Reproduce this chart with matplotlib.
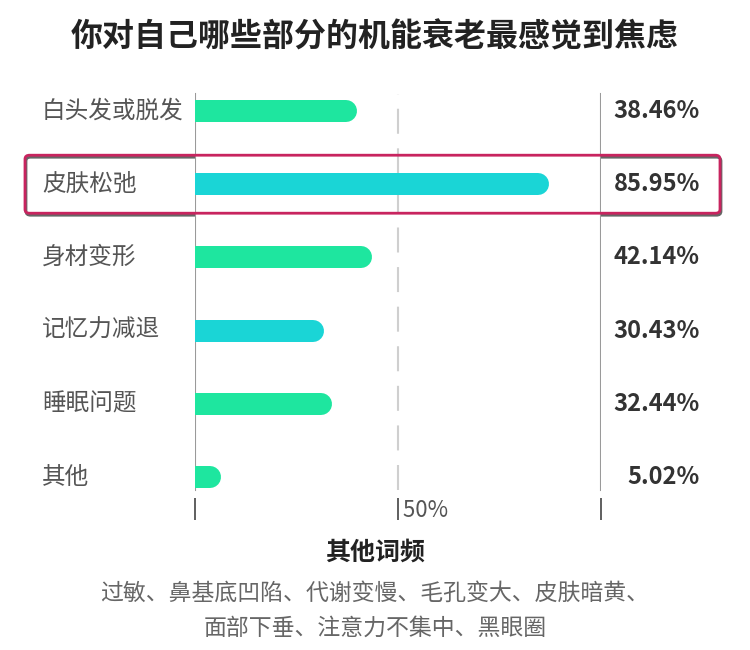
import matplotlib
matplotlib.use("Agg")
import matplotlib.pyplot as plt
from matplotlib.patches import FancyBboxPatch
from matplotlib.transforms import blended_transform_factory

plt.rcParams['font.family'] = ['Noto Sans CJK SC', 'DejaVu Sans']

title = "你对自己哪些部分的机能衰老最感觉到焦虑"
categories = ["白头发或脱发", "皮肤松弛", "身材变形", "记忆力减退", "睡眠问题", "其他"]
values = [38.46, 85.95, 42.14, 30.43, 32.44, 5.02]
value_labels = ["38.46%", "85.95%", "42.14%", "30.43%", "32.44%", "5.02%"]
bar_colors = ["#1ee69f", "#1ad5d6", "#1ee69f", "#1ad5d6", "#1ee69f", "#1ee69f"]
highlight_index = 1
tick_values = [0, 50, 100]
tick_label = "50%"
other_title = "其他词频"
other_lines = ["过敏、鼻基底凹陷、代谢变慢、毛孔变大、皮肤暗黄、",
               "面部下垂、注意力不集中、黑眼圈"]

W, H = 750, 650
fig = plt.figure(figsize=(7.5, 6.5), dpi=100)
ax = fig.add_axes([195 / W, 1 - 520 / H, 406 / W, 430 / H])
ax.set_xlim(0, 100)
ax.set_ylim(5.587, -0.287)
for s in ax.spines.values():
    s.set_visible(False)
ax.set_yticks([])
ax.set_xticks(tick_values)
ax.set_xticklabels([])
ax.tick_params(axis='x', direction='in', length=16, width=1.2, color='#444')

# vertical guide lines
for t in tick_values:
    if t == 50:
        ax.axvline(t, ymin=0.07, ymax=0.99, color='#cfcfcf', lw=1.5,
                   linestyle=(0, (12, 7)), zorder=1)
    else:
        ax.axvline(t, ymin=0.07, ymax=0.99, color='#9a9a9a', lw=1.5, zorder=1)
ax.text(50, 5.62, " " + tick_label, ha='left', va='bottom', fontsize=16,
        color='#555555')

# bars with rounded ends
px_per_unit = 406 / 100
bar_px = 22
r = (bar_px / 2) / px_per_unit
for i, (v, c) in enumerate(zip(values, bar_colors)):
    ax.plot([0, max(v - r / 2, 0.5)], [i, i], color=c, lw=bar_px * 0.72,
            solid_capstyle='round', zorder=3)

# category labels and value labels
tr = blended_transform_factory(fig.transFigure, ax.transData)
for i, (cat, lab) in enumerate(zip(categories, value_labels)):
    ax.text(42 / W, i, cat, transform=tr, ha='left', va='center',
            fontsize=17, color='#555555')
    ax.text(700 / W, i, lab, transform=tr, ha='right', va='center',
            fontsize=17, fontweight='bold', color='#333333')

# highlight box
yc = ax.transData.transform((0, highlight_index))[1] / fig.dpi / 6.5
bh = 58 / H
shadow = FancyBboxPatch((25 / W + 1 / W, yc - bh / 2 - 2 / H), 695 / W, bh,
                        boxstyle="round,pad=0,rounding_size=0.006",
                        transform=fig.transFigure, facecolor='none',
                        edgecolor='#666666', lw=2, zorder=0)
box = FancyBboxPatch((25 / W, yc - bh / 2), 695 / W, bh,
                     boxstyle="round,pad=0,rounding_size=0.006",
                     transform=fig.transFigure, facecolor='none',
                     edgecolor='#c8245f', lw=2, zorder=1)
fig.add_artist(shadow)
fig.add_artist(box)

# title and footer texts
fig.text(0.5, 1 - 37 / H, title, ha='center', va='center', fontsize=23,
         fontweight='bold', color='#222222')
fig.text(0.5, 1 - 553 / H, other_title, ha='center', va='center', fontsize=18,
         fontweight='bold', color='#222222')
fig.text(0.5, 1 - 593 / H, other_lines[0], ha='center', va='center',
         fontsize=16.5, color='#666666')
fig.text(0.5, 1 - 628 / H, other_lines[1], ha='center', va='center',
         fontsize=16.5, color='#666666')

fig.savefig("out.png", dpi=100, facecolor='white')
